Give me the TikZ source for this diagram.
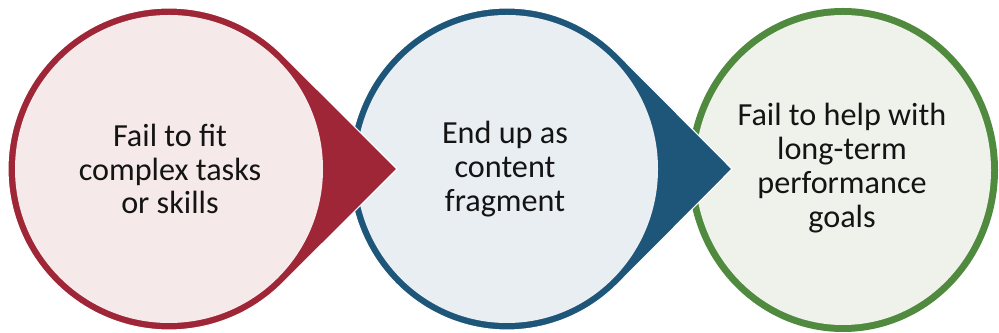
\documentclass[tikz,border=0pt]{standalone}
\usepackage{fontspec}
\setmainfont{Carlito}
\usetikzlibrary{calc}
\definecolor{fitdark}{RGB}{158,38,54}
\definecolor{fitsoft}{RGB}{246,233,234}
\definecolor{fragdark}{RGB}{29,86,121}
\definecolor{fragsoft}{RGB}{233,238,243}
\definecolor{goaldark}{RGB}{80,138,62}
\definecolor{goalsoft}{RGB}{238,242,235}
\definecolor{textdark}{RGB}{20,20,20}
\tikzset{
  drop/.style={draw=white, line width=0.8pt},
  circletext/.style={
    align=center,
    inner sep=0pt,
    text=textdark,
    font=\fontsize{22.9}{24.1}\selectfont
  }
}

\begin{document}
\begin{tikzpicture}[x=0.025cm, y=0.025cm]
  \useasboundingbox (0,0) rectangle (999,333);

  % third circle, no pointer
  \fill[goaldark] (843,163) ellipse[x radius=155, y radius=162];
  \fill[goalsoft] (843,163) ellipse[x radius=148, y radius=155];

  % second circle with pointer over the third
  \coordinate (fragtip) at (732,164);
  \filldraw[drop, fill=fragdark] (507,164) ++(45:158 and 161)
    arc[start angle=45, end angle=315, x radius=158, y radius=161] -- (fragtip) -- cycle;
  \fill[fragsoft] (507,164) ellipse[x radius=151, y radius=154];

  % first circle with pointer over the second
  \coordinate (fittip) at (397,164);
  \filldraw[drop, fill=fitdark] (169,164) ++(45:161)
    arc[start angle=45, end angle=315, radius=161] -- (fittip) -- cycle;
  \fill[fitsoft] (169,164) circle[radius=154];

  \node[circletext] (fit) at (170,164) {Fail to fit\\complex tasks\\or skills};
  \node[circletext] (frag) at (505,164) {End up as\\content\\fragment};
  \node[circletext] (goal) at (842,165) {Fail to help with\\long-term\\performance\\goals};
\end{tikzpicture}
\end{document}
